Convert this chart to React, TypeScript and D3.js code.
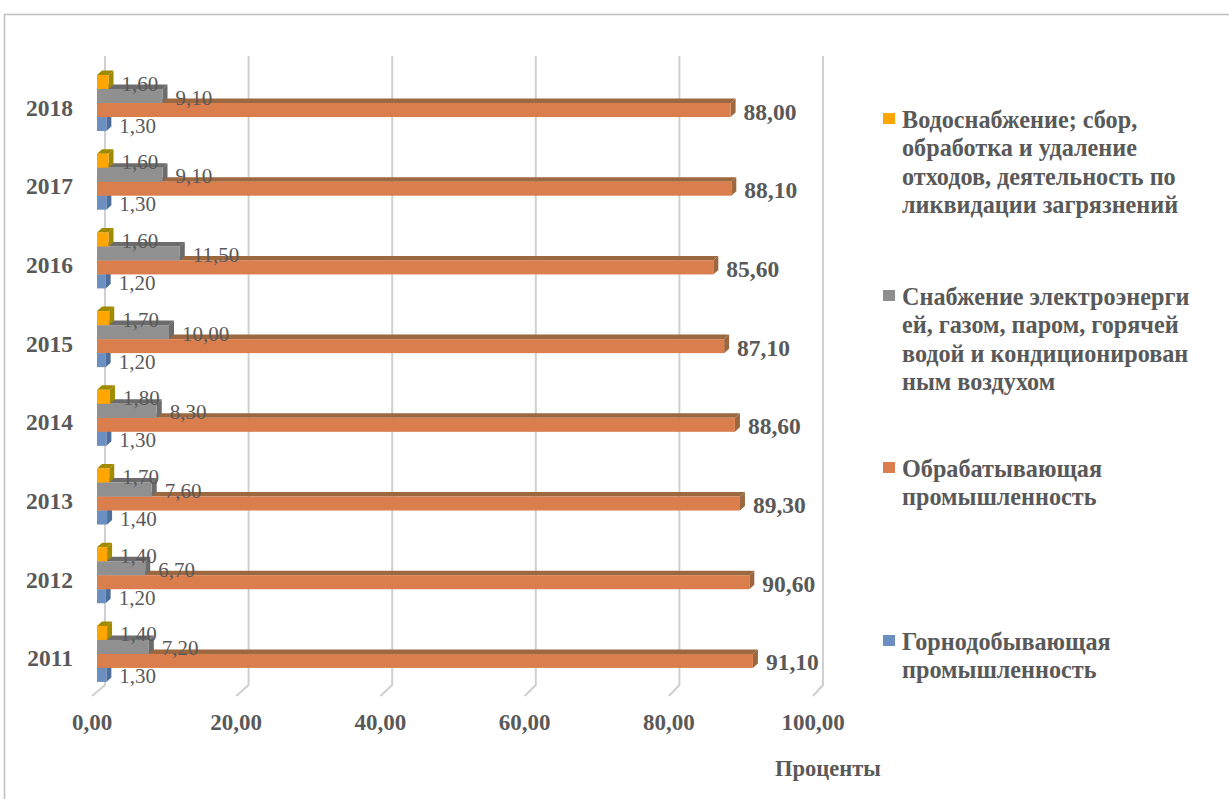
import React from "react";
import * as d3 from "d3";

const years = ["2011", "2012", "2013", "2014", "2015", "2016", "2017", "2018"];
const water = [1.4, 1.4, 1.7, 1.8, 1.7, 1.6, 1.6, 1.6];
const energy = [7.2, 6.7, 7.6, 8.3, 10.0, 11.5, 9.1, 9.1];
const manufacturing = [91.1, 90.6, 89.3, 88.6, 87.1, 85.6, 88.1, 88.0];
const mining = [1.3, 1.2, 1.4, 1.3, 1.2, 1.2, 1.3, 1.3];
const xTicks = [0, 20, 40, 60, 80, 100];
const axisTitle = "Проценты";

const seriesNames = ["water", "energy", "manufacturing", "mining"];
const legendLines = [
  ["Водоснабжение; сбор,", "обработка и удаление", "отходов, деятельность по", "ликвидации загрязнений"],
  ["Снабжение электроэнерги", "ей, газом, паром, горячей", "водой и кондиционирован", "ным воздухом"],
  ["Обрабатывающая", "промышленность"],
  ["Горнодобывающая", "промышленность"],
];

const seriesValues: Record<string, number[]> = { water, energy, manufacturing, mining };
const colors: Record<string, { front: string; dark: string; legend: string }> = {
  water: { front: "#FFA602", dark: "#A08A00", legend: "#FFA500" },
  energy: { front: "#909090", dark: "#6C6C6C", legend: "#8E8E8E" },
  manufacturing: { front: "#DA7E4E", dark: "#9B6840", legend: "#DA7E4D" },
  mining: { front: "#6B8FC0", dark: "#4D6D9A", legend: "#6A8FC0" },
};

const FONT = "'Liberation Serif', 'Times New Roman', serif";
const TEXT = "#595959";
const fmt = (v: number) => d3.format(".2f")(v).replace(".", ",");

export default function App() {
  const W = 1229, H = 799;
  const xBar = d3.scaleLinear().domain([0, 100]).range([97, 817]);
  const xBack = d3.scaleLinear().domain([0, 100]).range([105, 823]);
  const xFront = d3.scaleLinear().domain([0, 100]).range([92, 813]);
  const step = 78.7;
  const yCat = d3
    .scaleBand<string>()
    .domain([...years].reverse())
    .range([75 - step * 0.144, 75 - step * 0.144 + 8 * step])
    .paddingInner(0.288)
    .paddingOuter(0.144);
  const ySer = d3.scaleBand<string>().domain(seriesNames).range([0, yCat.bandwidth()]);
  const dx = 5, dy = 4.5;
  const h = ySer.bandwidth();

  const gridTop = 56, gridBackBottom = 685, gridFrontBottom = 696;

  const bars: React.ReactNode[] = [];
  const labels: React.ReactNode[] = [];
  years.forEach((yr, i) => {
    const y0 = yCat(yr)!;
    [...seriesNames].reverse().forEach((s) => {
      const v = seriesValues[s][i];
      const y = y0 + ySer(s)!;
      const x0 = xBar(0), x1 = xBar(v);
      const c = colors[s];
      bars.push(
        <g key={`${yr}-${s}`}>
          <polygon
            points={`${x0},${y} ${x0 + dx},${y - dy} ${x1 + dx},${y - dy} ${x1},${y}`}
            fill={c.dark}
          />
          <polygon
            points={`${x1},${y} ${x1 + dx},${y - dy} ${x1 + dx},${y + h - dy} ${x1},${y + h}`}
            fill={c.dark}
          />
          <rect x={x0} y={y} width={x1 - x0} height={h} fill={c.front} />
        </g>
      );
      const isMain = s === "manufacturing";
      labels.push(
        <text
          key={`l-${yr}-${s}`}
          x={x1 + 13}
          y={y + h / 2 + 1.5}
          dominantBaseline="central"
          fontFamily={FONT}
          fontSize={isMain ? 23.5 : 21}
          fontWeight={isMain ? "bold" : "normal"}
          fill={TEXT}
        >
          {fmt(v)}
        </text>
      );
    });
  });

  const legendStarts = [119, 296, 468, 641];
  const lineH = 28.6;

  return (
    <svg width={W} height={H} style={{ position: "absolute", left: 0, top: 0, background: "#fff" }}>
      <rect x={0} y={0} width={W} height={H} fill="#fff" />
      <rect x={4.5} y={14.5} width={W + 20} height={H + 20} fill="none" stroke="#BFBFBF" strokeWidth={1.5} />
      {xTicks.map((t) => (
        <polyline
          key={`g${t}`}
          points={`${xBack(t)},${gridTop} ${xBack(t)},${gridBackBottom} ${xFront(t)},${gridFrontBottom}`}
          fill="none"
          stroke="#D0D0D0"
          strokeWidth={2}
        />
      ))}
      {bars}
      {labels}
      {years.map((yr) => (
        <text
          key={`y${yr}`}
          x={73}
          y={yCat(yr)! + yCat.bandwidth() / 2 + 4.5}
          textAnchor="end"
          dominantBaseline="central"
          fontFamily={FONT}
          fontSize={23.5}
          fontWeight="bold"
          fill={TEXT}
        >
          {yr}
        </text>
      ))}
      {xTicks.map((t) => (
        <text
          key={`t${t}`}
          x={xFront(t)}
          y={722}
          textAnchor="middle"
          dominantBaseline="central"
          fontFamily={FONT}
          fontSize={23}
          fontWeight="bold"
          fill={TEXT}
        >
          {fmt(t)}
        </text>
      ))}
      <text
        x={828}
        y={768}
        textAnchor="middle"
        dominantBaseline="central"
        fontFamily={FONT}
        fontSize={22.5}
        fontWeight="bold"
        fill={TEXT}
      >
        {axisTitle}
      </text>
      {seriesNames.map((s, k) => (
        <g key={`lg${s}`}>
          <rect x={883} y={legendStarts[k] - 6} width={12} height={11} fill={colors[s].legend} />
          {legendLines[k].map((ln, j) => (
            <text
              key={j}
              x={902}
              y={legendStarts[k] + j * lineH}
              dominantBaseline="central"
              fontFamily={FONT}
              fontSize={24.2}
              fontWeight="bold"
              fill={TEXT}
            >
              {ln}
            </text>
          ))}
        </g>
      ))}
    </svg>
  );
}
